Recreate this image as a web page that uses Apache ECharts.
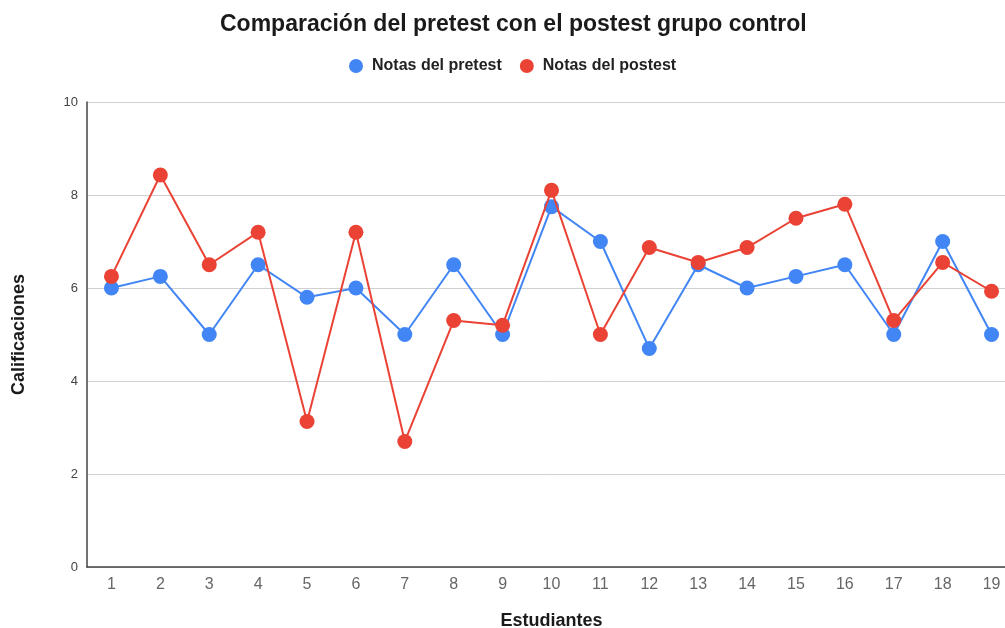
<!DOCTYPE html>
<html>
<head>
<meta charset="utf-8">
<script src="https://cdn.jsdelivr.net/npm/echarts@6/dist/echarts.min.js"></script>
<style>
  html, body { margin: 0; padding: 0; background: #fff; overflow: hidden; }
  #chart { width: 1005px; height: 628px; }
</style>
</head>
<body>
<div id="chart"></div>
<script>
// Students 1..19 and their grades before and after
const estudiantes = ['1','2','3','4','5','6','7','8','9','10','11','12','13','14','15','16','17','18','19'];
const notasPretest = [6, 6.25, 5, 6.5, 5.8, 6, 5, 6.5, 5, 7.75, 7, 4.7, 6.5, 6, 6.25, 6.5, 5, 7, 5];
const notasPostest = [6.25, 8.43, 6.5, 7.2, 3.13, 7.2, 2.7, 5.3, 5.2, 8.1, 5, 6.87, 6.55, 6.87, 7.5, 7.8, 5.3, 6.55, 5.93];
const yTicks = { min: 0, max: 10, interval: 2 };

const FONT = '"Liberation Sans", Arial, sans-serif';
const chart = echarts.init(document.getElementById('chart'), null, { renderer: 'canvas' });

chart.setOption({
  backgroundColor: '#ffffff',
  animation: false,
  textStyle: { fontFamily: FONT },
  title: {
    text: 'Comparación del pretest con el postest grupo control',
    left: 215,
    top: 8,
    textStyle: { fontFamily: FONT, fontSize: 23, fontWeight: 'bold', color: '#1a1a1a' }
  },
  legend: {
    top: 53,
    left: 344,
    icon: 'circle',
    itemWidth: 14,
    itemHeight: 14,
    itemGap: 18,
    textStyle: { fontFamily: FONT, fontSize: 16, fontWeight: 'bold', color: '#222', padding: [0, 0, 0, 4] },
    data: ['Notas del pretest', 'Notas del postest']
  },
  // plot area runs a little past the right edge of the page
  grid: { left: 87, width: 929, top: 102, height: 465, containLabel: false, outerBoundsMode: 'none' },
  xAxis: [{
    type: 'category',
    data: estudiantes,
    boundaryGap: true,
    name: 'Estudiantes',
    nameLocation: 'middle',
    nameGap: 45,
    nameTextStyle: { fontFamily: FONT, fontSize: 18, fontWeight: 'bold', color: '#1a1a1a' },
    axisLine: { lineStyle: { color: '#444', width: 1.5 } },
    axisTick: { alignWithLabel: true, length: 6, lineStyle: { color: '#444', width: 1.5 } },
    axisLabel: { fontFamily: FONT, fontSize: 16, color: '#666', margin: 10 },
    splitLine: { show: false }
  }, {
    // inner half of the crossing tick marks
    type: 'category',
    data: estudiantes,
    position: 'bottom',
    boundaryGap: true,
    axisLine: { show: false },
    axisTick: { inside: true, alignWithLabel: true, length: 7, lineStyle: { color: '#444', width: 1.5 } },
    axisLabel: { show: false },
    splitLine: { show: false }
  }],
  yAxis: {
    type: 'value',
    min: yTicks.min,
    max: yTicks.max,
    interval: yTicks.interval,
    name: 'Calificaciones',
    nameLocation: 'middle',
    nameGap: 59,
    nameTextStyle: { fontFamily: FONT, fontSize: 18, fontWeight: 'bold', color: '#1a1a1a' },
    axisLine: { show: true, lineStyle: { color: '#444', width: 1.5 } },
    axisTick: { show: false },
    axisLabel: { fontFamily: FONT, fontSize: 13, color: '#444', margin: 9 },
    splitLine: { lineStyle: { color: '#d0d0d0', width: 1 } }
  },
  series: [{
    name: 'Notas del pretest',
    type: 'line',
    data: notasPretest,
    symbol: 'circle',
    symbolSize: 15,
    color: '#4285F4',
    lineStyle: { width: 2 },
    z: 2
  }, {
    name: 'Notas del postest',
    type: 'line',
    data: notasPostest,
    symbol: 'circle',
    symbolSize: 15,
    color: '#EA4335',
    lineStyle: { width: 2 },
    z: 3
  }]
});
</script>
</body>
</html>
